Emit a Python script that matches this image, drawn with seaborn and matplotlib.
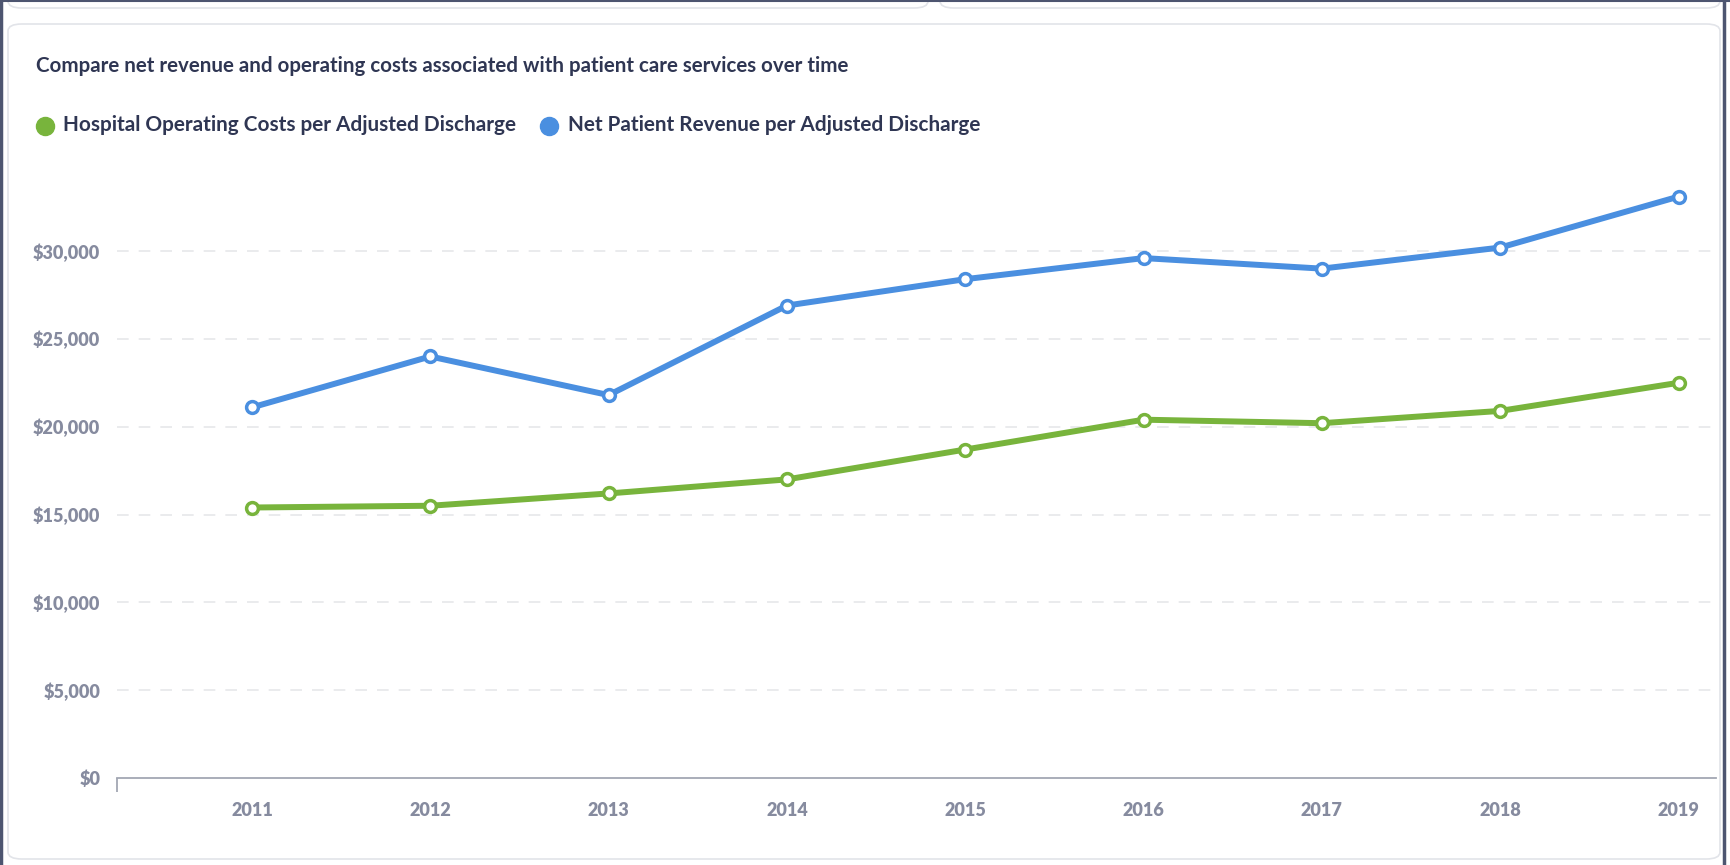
import pandas as pd
import numpy as np
import seaborn as sns
import matplotlib.pyplot as plt
from matplotlib.lines import Line2D
from matplotlib.patches import FancyBboxPatch

# valores
years = [2011, 2012, 2013, 2014, 2015, 2016, 2017, 2018, 2019]
operating_costs = [15400, 15500, 16200, 17000, 18700, 20400, 20200, 20900, 22500]
net_revenue = [21100, 24000, 21800, 26900, 28400, 29600, 29000, 30200, 33100]
series_names = ["Hospital Operating Costs per Adjusted Discharge",
                "Net Patient Revenue per Adjusted Discharge"]
y_ticks = [0, 5000, 10000, 15000, 20000, 25000, 30000]
title = "Compare net revenue and operating costs associated with patient care services over time"

colors = ["#78B43C", "#4A8FE0"]
text_dark = "#2F3653"
text_gray = "#868B9F"

df = pd.concat([
    pd.DataFrame({"year": years, "value": operating_costs, "serie": series_names[0]}),
    pd.DataFrame({"year": years, "value": net_revenue, "serie": series_names[1]}),
])

sns.set_style("white")
plt.rcParams["font.family"] = ["Lato", "DejaVu Sans"]

W, H = 1731, 865
fig = plt.figure(figsize=(W / 100, H / 100), dpi=100)

# marco de la tarjeta (detras de los ejes)
card_kw = dict(boxstyle="round,pad=0,rounding_size=0.008", transform=fig.transFigure,
               facecolor="white", edgecolor="#E2E4E9", linewidth=1.2, zorder=-10)
fig.patches.append(FancyBboxPatch((8 / W, 6 / H), 1712 / W, 835 / H, **card_kw))
fig.patches.append(FancyBboxPatch((8 / W, 857 / H), 920 / W, 20 / H, **card_kw))
fig.patches.append(FancyBboxPatch((940 / W, 857 / H), 780 / W, 20 / H, **card_kw))
border_kw = dict(transform=fig.transFigure, color="#4D5570", zorder=-5)
fig.lines.append(Line2D([1.5 / W, 1.5 / W], [0, 1], linewidth=2.5, **border_kw))
fig.lines.append(Line2D([1724 / W, 1724 / W], [0, 1], linewidth=2.5, **border_kw))
fig.lines.append(Line2D([0, 1], [864 / H, 864 / H], linewidth=1.5, **border_kw))

ax = fig.add_axes([117 / W, 1 - 778 / H, (1716 - 117) / W, (778 - 165) / H])
ax.patch.set_alpha(0)

sns.lineplot(data=df, x="year", y="value", hue="serie", palette=colors,
             linewidth=4.3, marker="o", markersize=8.5, markerfacecolor="white",
             markeredgewidth=2.5, legend=False, ax=ax, zorder=3)
# borde del marcador del mismo color que la linea
for line in ax.get_lines():
    line.set_markeredgecolor(line.get_color())

ax.set_xlim(years[0] - 0.757, years[-1] + 0.21)
ax.set_ylim(0, 34900)
ax.set_xticks(years)
ax.set_xticklabels([str(y) for y in years], fontweight="heavy")
ax.set_yticks(y_ticks)
ax.set_yticklabels(["$" + format(v, ",") for v in y_ticks], fontweight="heavy")
ax.set_xlabel("")
ax.set_ylabel("")

for v in y_ticks[1:]:
    ax.axhline(v, color="#E6E7EA", linewidth=1.2, linestyle=(0, (7, 6)), zorder=1)

for s in ["top", "right", "left"]:
    ax.spines[s].set_visible(False)
ax.spines["bottom"].set_color("#A3A7B3")
ax.spines["bottom"].set_linewidth(1.3)

ax.tick_params(axis="both", length=0, labelsize=13, labelcolor=text_gray)
ax.tick_params(axis="x", pad=17)
ax.tick_params(axis="y", pad=12)
# pequeña marca al inicio del eje x
ax.set_xticks([years[0] - 0.755], minor=True)
ax.tick_params(axis="x", which="minor", bottom=True, length=10, width=1.3,
               color="#A3A7B3", direction="out")

fig.text(36 / W, 1 - 66 / H, title, fontsize=14.8, fontweight="bold",
         color=text_dark, va="center", ha="left")

handles = [Line2D([], [], linestyle="", marker="o", markersize=13,
                  markerfacecolor=c, markeredgecolor=c) for c in colors]
leg = fig.legend(handles, series_names, loc="center left",
                 bbox_to_anchor=(39 / W, 1 - 125 / H), ncol=2, frameon=False,
                 handlelength=0.8, handletextpad=0.95, columnspacing=1.95,
                 borderpad=0, borderaxespad=0)
for t in leg.get_texts():
    t.set_fontsize(14.95)
    t.set_fontweight("bold")
    t.set_color(text_dark)

fig.savefig("out.png", dpi=100, facecolor="white")
plt.close(fig)
